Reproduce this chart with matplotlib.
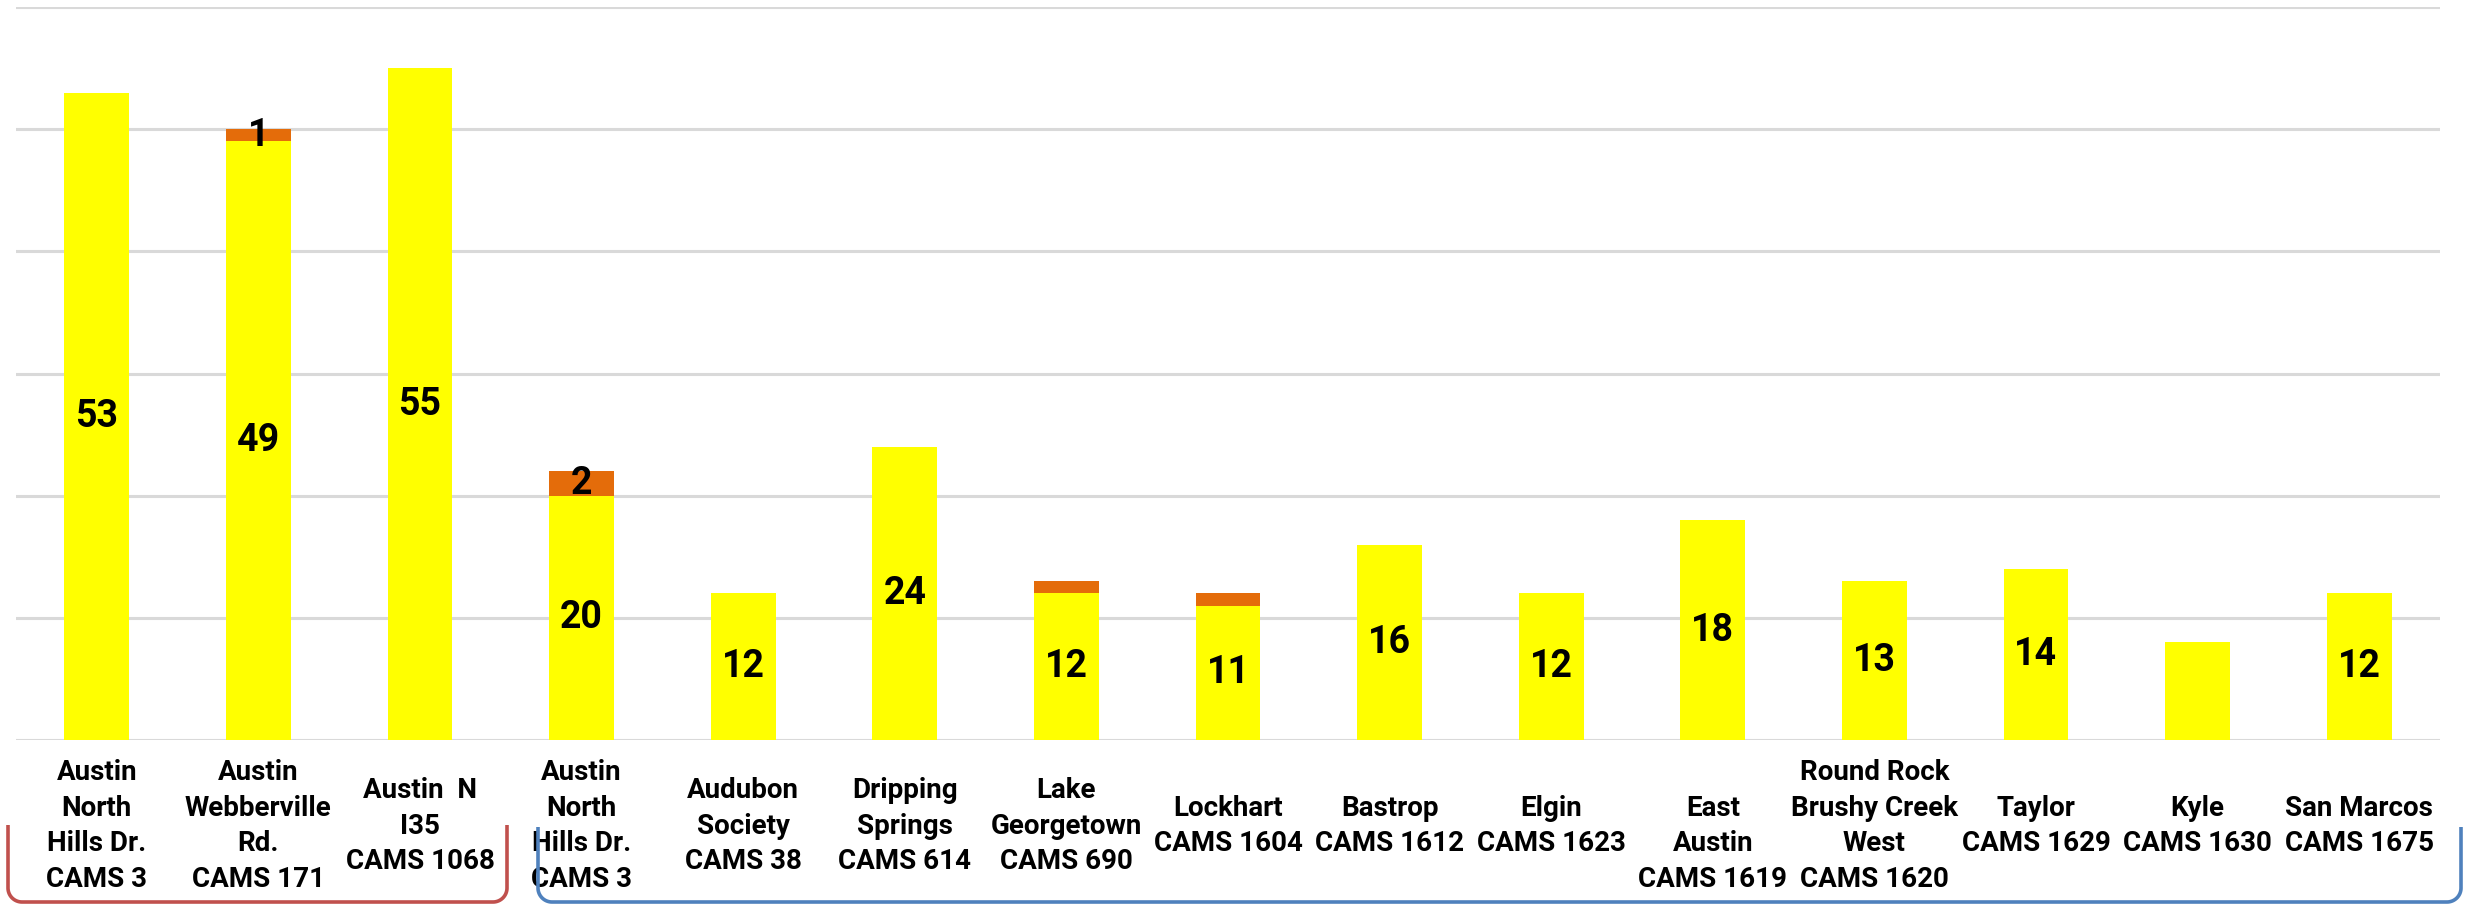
import numpy as np
import matplotlib
matplotlib.use("Agg")
import matplotlib.pyplot as plt

plt.rcParams['font.family'] = ['Roboto', 'DejaVu Sans']

sites = ["Austin\nNorth\nHills Dr.\nCAMS 3",
         "Austin\nWebberville\nRd.\nCAMS 171",
         "Austin  N\nI35\nCAMS 1068",
         "Austin\nNorth\nHills Dr.\nCAMS 3",
         "Audubon\nSociety\nCAMS 38",
         "Dripping\nSprings\nCAMS 614",
         "Lake\nGeorgetown\nCAMS 690",
         "Lockhart\nCAMS 1604",
         "Bastrop\nCAMS 1612",
         "Elgin\nCAMS 1623",
         "\nEast\nAustin\nCAMS 1619",
         "Round Rock\nBrushy Creek\nWest\nCAMS 1620",
         "Taylor\nCAMS 1629",
         "Kyle\nCAMS 1630",
         "San Marcos\nCAMS 1675"]
yellow = [53, 49, 55, 20, 12, 24, 12, 11, 16, 12, 18, 13, 14, 8, 12]
orange = [0, 1, 0, 2, 0, 0, 1, 1, 0, 0, 0, 0, 0, 0, 0]
yellow_labels = [53, 49, 55, 20, 12, 24, 12, 11, 16, 12, 18, 13, 14, None, 12]
orange_labels = [None, 1, None, 2, None, None, None, None, None, None, None, None, None, None, None]

W, H = 2469, 906
fig = plt.figure(figsize=(W / 100, H / 100), dpi=100)
ax = fig.add_axes([16 / W, 1 - 740 / H, (2440 - 16) / W, (740 - 7) / H])

x = np.arange(len(sites))
b1 = ax.bar(x, yellow, width=0.4, color="#FFFF00", zorder=2)
b2 = ax.bar(x, orange, width=0.4, bottom=yellow, color="#E46C0A", zorder=2)

for rect, lab in zip(b1, yellow_labels):
    if lab is not None:
        ax.text(rect.get_x() + rect.get_width() / 2, rect.get_y() + rect.get_height() / 2,
                str(lab), ha="center", va="center", fontsize=27, fontweight="bold", zorder=3)
for rect, lab in zip(b2, orange_labels):
    if lab is not None:
        ax.text(rect.get_x() + rect.get_width() / 2, rect.get_y() + rect.get_height() / 2,
                str(lab), ha="center", va="center", fontsize=27, fontweight="bold", zorder=3)

ax.set_xlim(-0.5, len(sites) - 0.5)
ax.set_ylim(0, 60)
ax.set_yticks(np.arange(0, 61, 10))
ax.yaxis.grid(True, color="#D9D9D9", linewidth=2.2, zorder=0)
ax.set_yticklabels([])
ax.tick_params(length=0)
ax.set_xticks([])
for s in ax.spines.values():
    s.set_visible(False)

# category labels
for xi, name in zip(x, sites):
    ax.annotate(name, xy=(xi, 0), xycoords=("data", "axes fraction"),
                xytext=(0, -86), textcoords="offset pixels",
                ha="center", va="center", fontsize=20, fontweight="bold",
                linespacing=1.4)

# brackets under the two groups
ov = fig.add_axes([0, 0, 1, 1])
ov.set_xlim(0, W)
ov.set_ylim(H, 0)
ov.axis("off")
ov.patch.set_alpha(0)


def bracket(x0, x1, top, bottom, color, r=14):
    t = np.linspace(0, np.pi / 2, 20)
    left_arc_x = x0 + r - r * np.cos(t)
    left_arc_y = bottom - r + r * np.sin(t)
    right_arc_x = x1 - r + r * np.sin(t)
    right_arc_y = bottom - r * (1 - np.cos(t))
    xs = np.concatenate([[x0], left_arc_x, right_arc_x, [x1]])
    ys = np.concatenate([[top], left_arc_y, right_arc_y, [top]])
    ov.plot(xs, ys, color=color, linewidth=2.6, solid_capstyle="butt")


bracket(8, 507, 825, 902, "#C0504D")
bracket(538, 2461, 827, 902, "#4F81BD")

fig.savefig("out.png", dpi=100, facecolor="white")
